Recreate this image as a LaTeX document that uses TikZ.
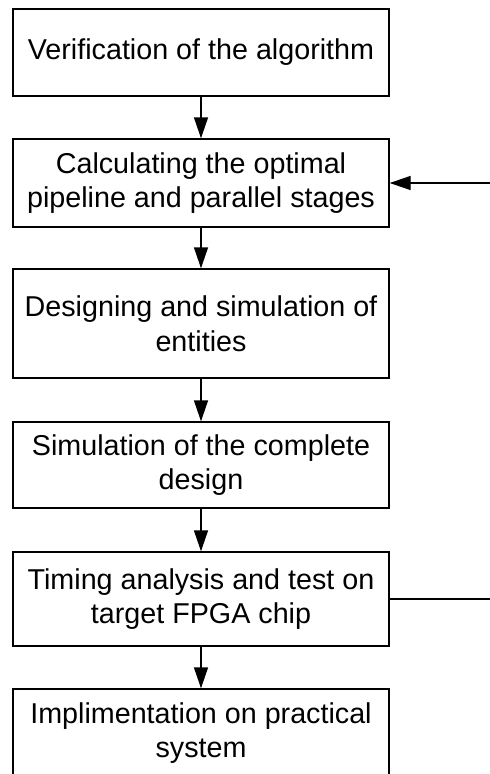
\documentclass[tikz,border=0pt]{standalone}
\usepackage{fontspec}
\setmainfont{Liberation Sans}
\usetikzlibrary{arrows.meta}
\begin{document}
\begin{tikzpicture}[x=1pt,y=-1pt,
  stepbox/.style={draw=black,line width=1.4pt,fill=white,minimum width=376pt,
    align=center,inner sep=0pt,font=\fontsize{28.7}{34.5}\selectfont},
  flow/.style={line width=1.4pt,-{Triangle[length=21pt,width=14pt]}}]
\useasboundingbox (0,0) rectangle (490,774);
\clip (0,0) rectangle (490,774);
\node[stepbox,minimum height=87pt] (b1) at (201,52.5) {Verification of the algorithm};
\node[stepbox,minimum height=88pt] (b2) at (201,183) {Calculating the optimal\\pipeline and parallel stages};
\node[stepbox,minimum height=109pt] (b3) at (201,323.5) {Designing and simulation of\\entities};
\node[stepbox,minimum height=86pt] (b4) at (201,465) {Simulation of the complete\\design};
\node[stepbox,minimum height=94pt] (b5) at (201,599) {Timing analysis and test on\\target FPGA chip};
\node[stepbox,minimum height=88pt] (b6) at (201,733) {Implimentation on practical\\system};
\draw[flow] (b1) -- (b2);
\draw[flow] (b2) -- (b3);
\draw[flow] (b3) -- (b4);
\draw[flow] (b4) -- (b5);
\draw[flow] (b5) -- (b6);
\coordinate (fb) at (520,599);
\draw[flow] (b5.east) -- (fb) |- (b2.east);
\end{tikzpicture}
\end{document}
